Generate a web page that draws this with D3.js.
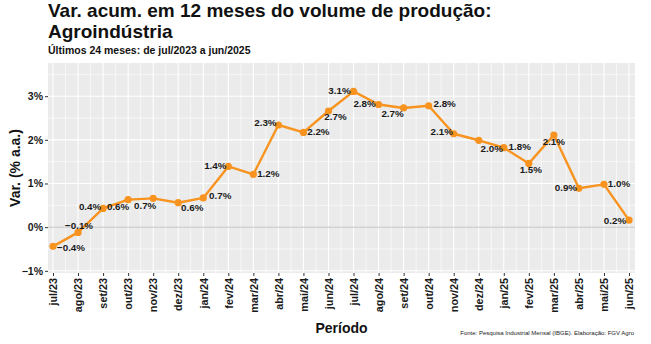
<!DOCTYPE html>
<html><head><meta charset="utf-8">
<script src="https://cdn.jsdelivr.net/npm/d3@7"></script>
<style>body{margin:0;background:#fff}svg{display:block;font-family:"Liberation Sans",Arial,sans-serif}</style>
</head><body><svg id="c" width="651" height="344"></svg>
<script>
const months = ["jul/23","ago/23","set/23","out/23","nov/23","dez/23","jan/24","fev/24","mar/24","abr/24","mai/24","jun/24","jul/24","ago/24","set/24","out/24","nov/24","dez/24","jan/25","fev/25","mar/25","abr/25","mai/25","jun/25"];
const values = [-0.44,-0.12,0.43,0.63,0.66,0.56,0.67,1.39,1.21,2.34,2.17,2.66,3.11,2.81,2.73,2.78,2.14,1.99,1.82,1.46,2.11,0.89,0.98,0.16];
const yTicks = [-1,0,1,2,3];
const yMinor = [-0.5,0.5,1.5,2.5,3.5];
// label placement relative to point (text center offset)
const labelDx = [18,1,-13,-10,-8,14,17,-13,15,-13,15,7,-14,-14,-11,16,-12,13,16,2,0,-13,15,-14];
const labelDy = [1,-7,-2,7,7,5,-2,-1,-1,-2,-1,6,-1,-1,6,-2,-2,8,-1,6,7,-1,-1,0];

const svg = d3.select("#c");
const L=48,R=635,T=63,B=273;
const x = d3.scalePoint().domain(months).range([53,629]);
const y = d3.scaleLinear().domain([-1.05,3.76]).range([B,T]);
const step = x.step();

svg.append("rect").attr("x",L).attr("y",T).attr("width",R-L).attr("height",B-T).attr("fill","#ebebeb");
const g = svg.append("g");
// minor grid
g.selectAll(".hm").data(yMinor).join("line").attr("x1",L).attr("x2",R).attr("y1",d=>y(d)).attr("y2",d=>y(d)).attr("stroke","#fff").attr("stroke-width",0.6);
g.selectAll(".vm").data(months.slice(1)).join("line").attr("x1",d=>x(d)-step/2).attr("x2",d=>x(d)-step/2).attr("y1",T).attr("y2",B).attr("stroke","#fff").attr("stroke-width",0.6);
// major grid
g.selectAll(".h").data(yTicks).join("line").attr("x1",L).attr("x2",R).attr("y1",d=>y(d)).attr("y2",d=>y(d)).attr("stroke","#fff").attr("stroke-width",1.1);
g.selectAll(".v").data(months).join("line").attr("x1",d=>x(d)).attr("x2",d=>x(d)).attr("y1",T).attr("y2",B).attr("stroke","#fff").attr("stroke-width",1.1);
// zero line
g.append("line").attr("x1",L).attr("x2",R).attr("y1",y(0)).attr("y2",y(0)).attr("stroke","#bdbdbd").attr("stroke-width",1);

// axes
const yAx = svg.append("g").attr("transform",`translate(${L},0)`)
  .call(d3.axisLeft(y).tickValues(yTicks).tickFormat(d=>(d<0?"\u2212":"")+Math.abs(d)+"%").tickSize(3).tickPadding(2));
yAx.select(".domain").remove();
yAx.selectAll("line").attr("stroke","#333");
yAx.selectAll("text").attr("font-size",10.5).attr("font-weight","bold").attr("fill","#1a1a1a").attr("font-family","Liberation Sans, Arial, sans-serif");

const xAx = svg.append("g").attr("transform",`translate(0,${B})`)
  .call(d3.axisBottom(x).tickSize(3).tickPadding(2));
xAx.select(".domain").remove();
xAx.selectAll("line").attr("stroke","#333");
xAx.selectAll("text").attr("font-size",10.8).attr("font-weight","bold").attr("fill","#1a1a1a").attr("font-family","Liberation Sans, Arial, sans-serif")
  .attr("transform","rotate(-90)").attr("text-anchor","end").attr("dy","0.35em").attr("x",-5).attr("y",0);

// line & points
const col = "#F7931E";
svg.append("path").datum(values).attr("fill","none").attr("stroke",col).attr("stroke-width",2.4).attr("stroke-linejoin","round")
  .attr("d",d3.line().x((d,i)=>x(months[i])).y(d=>y(d)));
svg.selectAll(".pt").data(values).join("circle").attr("cx",(d,i)=>x(months[i])).attr("cy",d=>y(d)).attr("r",3.6).attr("fill",col);

// labels
svg.selectAll(".lb").data(values).join("text")
  .attr("x",(d,i)=>x(months[i])+labelDx[i]).attr("y",(d,i)=>y(d)+labelDy[i])
  .attr("text-anchor","middle").attr("dy","0.35em").attr("font-size",9.8).attr("font-weight","bold").attr("fill","#1a1a1a")
  .text(d=>(d<0?"\u2212":"")+Math.abs(d).toFixed(1)+"%");

// titles
svg.append("text").attr("x",48).attr("y",17).attr("font-size",19).attr("font-weight","bold").attr("fill","#111").text("Var. acum. em 12 meses do volume de produção:");
svg.append("text").attr("x",48).attr("y",37.5).attr("font-size",19).attr("font-weight","bold").attr("fill","#111").text("Agroindústria");
svg.append("text").attr("x",48).attr("y",54).attr("font-size",10.5).attr("font-weight","bold").attr("fill","#111").text("Últimos 24 meses: de jul/2023 a jun/2025");
svg.append("text").attr("transform",`translate(20,${(T+B)/2}) rotate(-90)`).attr("text-anchor","middle").attr("font-size",14).attr("font-weight","bold").attr("fill","#111").text("Var. (% a.a.)");
svg.append("text").attr("x",(L+R)/2).attr("y",333).attr("text-anchor","middle").attr("font-size",14).attr("font-weight","bold").attr("fill","#111").text("Período");
svg.append("text").attr("x",634).attr("y",335).attr("text-anchor","end").attr("font-size",6).attr("fill","#222").text("Fonte: Pesquisa Industrial Mensal (IBGE). Elaboração: FGV Agro");
</script></body></html>
